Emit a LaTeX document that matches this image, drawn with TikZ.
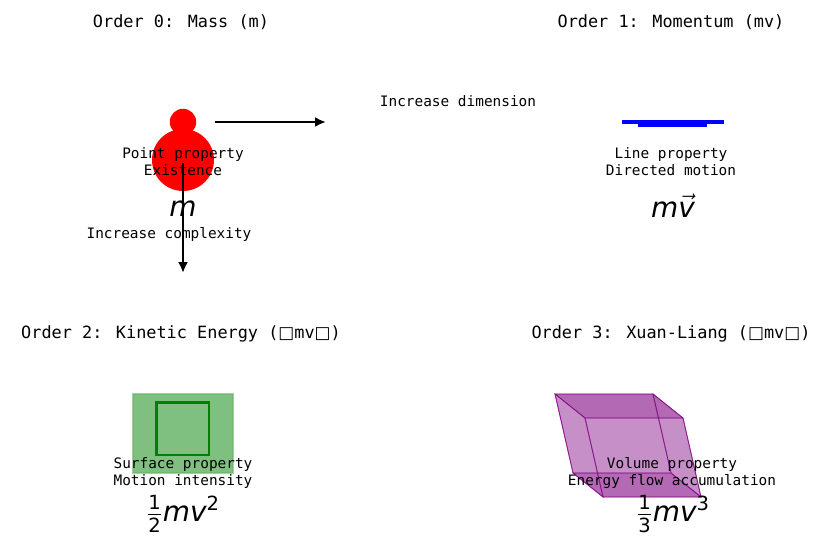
\documentclass[tikz,border=0pt]{standalone}
\usepackage{amsmath}
\usepackage{fontspec}
\setmainfont{DejaVu Sans Mono}
\newfontfamily\djsans{DejaVu Sans}
\usetikzlibrary{arrows.meta}
\newcommand{\qm}[1]{\text{\djsans\itshape #1}}
\newcommand{\qn}[1]{\text{\djsans #1}}
\newcommand{\tofu}{{\djsans\char"25A1}}
\definecolor{mplgreen}{HTML}{008000}
\definecolor{mplpurple}{HTML}{800080}
\tikzset{
  otitle/.style={font=\fontsize{9.6}{11}\selectfont},
  oprop/.style={align=center,font=\fontsize{8.2}{9.6}\selectfont},
  ohint/.style={font=\fontsize{8.2}{9.6}\selectfont},
  omath/.style={inner sep=0pt,font=\fontsize{15.9}{18}\selectfont},
  oarr/.style={-{Latex[length=2.2mm,width=2mm]},line width=1.5pt},
  oline/.style={line width=2.8pt,blue},
  oface/.style={fill=mplpurple,fill opacity=#1,draw=mplpurple,draw opacity=0.6,line width=0.5pt},
}

\begin{document}
\begin{tikzpicture}[x=0.02cm,y=-0.02cm]
\useasboundingbox (0,0) rectangle (818,537);
%% four panels: order 0 (point), 1 (line), 2 (surface), 3 (volume)
\node[otitle] (t0) at (181,22) {Order 0: Mass (m)};
\node[otitle] (t1) at (671,22) {Order 1: Momentum (mv)};
\node[otitle] (t2) at (181,334) {Order 2: Kinetic Energy (\tofu mv\tofu)};
\node[otitle] (t3) at (671,334) {Order 3: Xuan-Liang (\tofu mv\tofu)};
% ---- order 0: the mass point
\node[circle,fill=red,inner sep=0pt,minimum size=1.24cm] (bigball) at (183,160) {};
\node[circle,fill=red,inner sep=0pt,minimum size=0.53cm] (smallball) at (183,122) {};
\node[oprop] (p0) at (183,162) {Point property\\Existence};
\node[omath] (m0) at (183,209) {$\qm{m}$};
% ---- order 1: the directed line
\coordinate (la) at (622,122);
\coordinate (lb) at (724,122);
\coordinate (lc) at (638,124.5);
\coordinate (ld) at (707,124.5);
\draw[oline] (la) -- (lb);
\draw[oline] (lc) -- (ld);
\node[oprop] (p1) at (671,162) {Line property\\Directed motion};
\node[omath] (m1) at (673,206) {$\qm{m}\vec{\qm{v}}$};
% ---- order 2: the surface
\node[draw=mplgreen!60,fill=mplgreen,fill opacity=0.5,draw opacity=0.6,line width=0.6pt,
  minimum width=2cm,minimum height=1.58cm,inner sep=0pt] (sheet) at (183,433.5) {};
\node[draw=mplgreen,line width=1.7pt,minimum width=1.06cm,minimum height=1.06cm,inner sep=0pt]
  (square) at (182.5,428.5) {};
\node[oprop] (p2) at (183,473) {Surface property\\Motion intensity};
\node[omath] (m2) at (183,514) {$\frac{\qn{1}}{\qn{2}}\qm{mv}^{\qn{2}}$};
% ---- order 3: the sheared box
\coordinate (A) at (555,394);  \coordinate (B) at (653,394);
\coordinate (C) at (683,418);  \coordinate (D) at (585,418);
\coordinate (A') at (573,473); \coordinate (B') at (671,473);
\coordinate (C') at (701,497); \coordinate (D') at (603,497);
\foreach \f/\op in {{(A)--(B)--(B')--(A')}/0.25,{(A)--(D)--(D')--(A')}/0.25,
  {(B)--(C)--(C')--(B')}/0.25,{(D)--(C)--(C')--(D')}/0.25,
  {(A)--(B)--(C)--(D)}/0.45,{(A')--(B')--(C')--(D')}/0.45}{
  \draw[oface=\op] \f -- cycle;}
\node[oprop] (p3) at (672,473) {Volume property\\Energy flow accumulation};
\node[omath] (m3) at (673,514) {$\frac{\qn{1}}{\qn{3}}\qm{mv}^{\qn{3}}$};
% ---- the two directions of growth
\node[ohint] (dimlab) at (458,101) {Increase dimension};
\node[ohint] (cplab) at (169,234) {Increase complexity};
\coordinate (dimstart) at (215,122);
\coordinate (dimend) at (326,122);
\coordinate (cpstart) at (183,163);
\coordinate (cpend) at (183,273);
\draw[oarr] (dimstart) -- (dimend);
\draw[oarr] (cpstart) -- (cpend);
\end{tikzpicture}
\end{document}
